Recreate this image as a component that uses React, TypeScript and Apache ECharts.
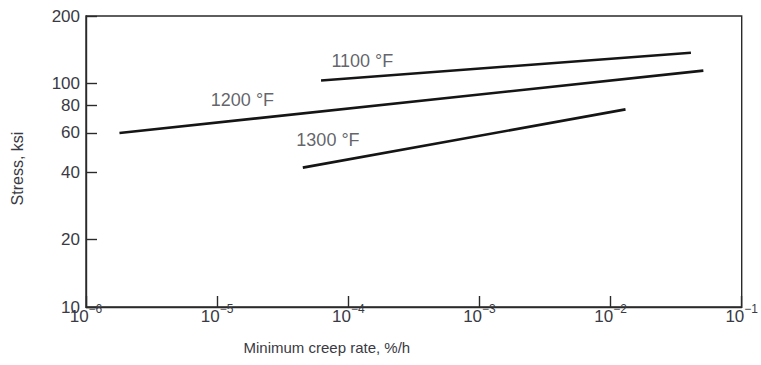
import React, { useEffect, useRef } from "react";
import * as echarts from "echarts";

// Minimum creep rate (%/h) and stress (ksi) end points of each fitted line
const line1100X = [6.2e-5, 4.1e-2];
const line1100Y = [103, 137];
const line1200X = [1.8e-6, 5.1e-2];
const line1200Y = [60, 114];
const line1300X = [4.5e-5, 1.3e-2];
const line1300Y = [42, 76.5];

const lineNames = ["1100 °F", "1200 °F", "1300 °F"];
const labelX = [1.28e-4, 1.56e-5, 7.0e-5];
const labelY = [126, 84.6, 56];

const xTicks = [1e-6, 1e-5, 1e-4, 1e-3, 1e-2, 1e-1];
const yTicks = [10, 20, 40, 60, 80, 100, 200];

const FONT = "'Liberation Sans', Arial, sans-serif";
const TEXT = "#3a3a44";
const AXIS = "#2a2a2a";

function pairs(xs: number[], ys: number[]) {
  return xs.map((x, i) => [x, ys[i]]);
}

export default function App() {
  const ref = useRef<HTMLDivElement>(null);
  useEffect(() => {
    if (!ref.current) return;
    const chart = echarts.init(ref.current, undefined, { renderer: "svg" });
    const lineStyle = { color: "#151515", width: 2.6 };
    chart.setOption({
      animation: false,
      backgroundColor: "#ffffff",
      grid: {
        left: 86,
        top: 16,
        right: 19,
        bottom: 58,
        show: true,
        borderColor: AXIS,
        borderWidth: 1.4,
      },
      xAxis: {
        type: "log",
        logBase: 10,
        min: 1e-6,
        max: 1e-1,
        name: "Minimum creep rate, %/h",
        nameLocation: "middle",
        nameGap: 33,
        nameTextStyle: {
          fontFamily: FONT,
          fontSize: 15,
          color: TEXT,
          padding: [0, 174, 0, 0],
        },
        axisLine: { show: true, lineStyle: { color: AXIS, width: 1.4 } },
        axisTick: {
          show: true,
          inside: true,
          length: 11,
          customValues: xTicks,
          lineStyle: { color: AXIS, width: 1.4 },
        },
        axisLabel: {
          customValues: xTicks,
          showMinLabel: true,
          showMaxLabel: true,
          margin: -4,
          formatter: (v: number) => {
            const e = Math.round(Math.log10(v));
            return `{a|10}{b|−${Math.abs(e)}}`;
          },
          rich: {
            a: {
              fontFamily: FONT,
              fontSize: 17,
              color: TEXT,
              lineHeight: 22,
              verticalAlign: "bottom",
            },
            b: {
              fontFamily: FONT,
              fontSize: 12,
              color: TEXT,
              lineHeight: 12,
              verticalAlign: "top",
            },
          },
        },
        splitLine: { show: false },
      },
      yAxis: {
        type: "log",
        logBase: 10,
        min: 10,
        max: 200,
        name: "Stress, ksi",
        nameLocation: "middle",
        nameGap: 61,
        nameTextStyle: {
          fontFamily: FONT,
          fontSize: 16,
          color: TEXT,
          padding: [0, 14, 0, 0],
        },
        axisLine: { show: true, lineStyle: { color: AXIS, width: 1.4 } },
        axisTick: {
          show: true,
          inside: true,
          length: 11,
          customValues: yTicks,
          lineStyle: { color: AXIS, width: 1.4 },
        },
        axisLabel: {
          customValues: yTicks,
          showMinLabel: true,
          showMaxLabel: true,
          margin: 6,
          fontFamily: FONT,
          fontSize: 17,
          color: TEXT,
        },
        splitLine: { show: false },
      },
      series: [
        {
          type: "line",
          data: pairs(line1100X, line1100Y),
          symbol: "none",
          lineStyle,
        },
        {
          type: "line",
          data: pairs(line1200X, line1200Y),
          symbol: "none",
          lineStyle,
        },
        {
          type: "line",
          data: pairs(line1300X, line1300Y),
          symbol: "none",
          lineStyle,
        },
        {
          type: "scatter",
          symbolSize: 1,
          itemStyle: { color: "rgba(0,0,0,0)" },
          data: lineNames.map((n, i) => ({ name: n, value: [labelX[i], labelY[i]] })),
          label: {
            show: true,
            position: "inside",
            formatter: (p: any) => p.name,
            fontFamily: FONT,
            fontSize: 18,
            color: TEXT,
          },
        },
      ],
    });
    return () => chart.dispose();
  }, []);
  return (
    <div
      ref={ref}
      style={{ position: "fixed", left: 0, top: 0, width: 761, height: 365, background: "#fff" }}
    />
  );
}
